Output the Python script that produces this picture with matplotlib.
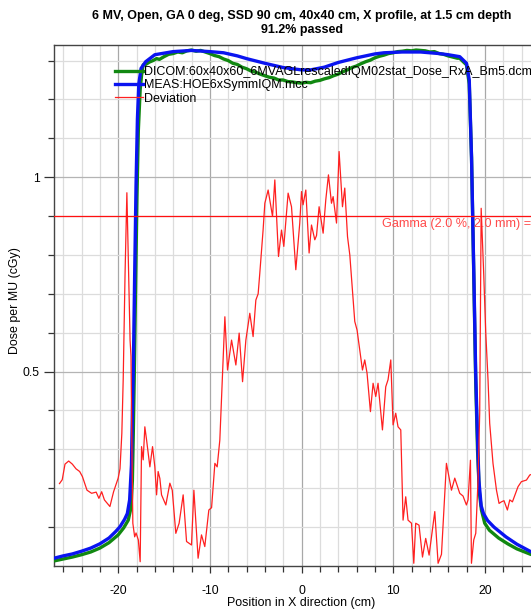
import matplotlib
matplotlib.use("Agg")
import matplotlib.pyplot as plt
import numpy as np

plt.rcParams['font.family'] = ['Liberation Sans', 'DejaVu Sans']
plt.rcParams['axes.unicode_minus'] = False

title = "6 MV, Open, GA 0 deg, SSD 90 cm, 40x40 cm, X profile, at 1.5 cm depth\n91.2% passed"
xlabel = "Position in X direction (cm)"
ylabel = "Dose per MU (cGy)"
label_dicom = "DICOM:60x40x60_6MVAGLrescaledIQM02stat_Dose_RxA_Bm5.dcm"
label_meas = "MEAS:HOE6xSymmIQM.mcc"
label_dev = "Deviation"
gamma_text = "Gamma (2.0 %, 2.0 mm) ="
gamma_level = 0.9

meas_x = [-27, -26, -25, -24, -23, -22, -21, -20.3, -19.8, -19.3, -19.0, -18.75, -18.55, -18.45,
          -18.35, -18.2, -18.05, -17.9, -17.75, -17.5, -17.0, -16.0, -14.0, -12.0, -10.0, -8.5,
          -7.0, -6.0, -4.0, -2.0, 0.0, 1.0, 2.5, 4.0, 6.0, 8.0, 9.0, 11.0, 13.0, 15.0, 16.0, 17.26,
          18.0, 18.3, 18.55, 18.8, 19.0, 19.15, 19.35, 19.6, 19.85, 20.3, 21.0, 22.3, 23.5, 25.0,
          26.0, 27.0]
meas_y = [0.020, 0.026, 0.031, 0.038, 0.046, 0.057, 0.072, 0.088, 0.101, 0.120, 0.135, 0.170,
          0.26, 0.39, 0.50, 0.75, 0.98, 1.15, 1.24, 1.28, 1.297, 1.315, 1.323, 1.326, 1.323, 1.32,
          1.312, 1.305, 1.293, 1.282, 1.276, 1.276, 1.283, 1.295, 1.307, 1.317, 1.32, 1.322, 1.322,
          1.318, 1.315, 1.31, 1.293, 1.25, 1.05, 0.75, 0.50, 0.37, 0.22, 0.155, 0.135, 0.117, 0.100,
          0.075, 0.056, 0.037, 0.030, 0.024]

dicom_x = [-27, -26, -25, -24, -23, -22, -21, -20.0, -19.4, -18.9, -18.6, -18.45, -18.35, -18.25,
           -18.1, -17.95, -17.8, -17.6, -17.45, -17.27, -17.0, -16.6, -16.2, -15.8, -15.5, -15.0,
           -14.5, -14.0, -13.5, -13.0, -12.5, -12.0, -11.5, -11.0, -10.5, -10.0, -9.5, -9.0, -8.5,
           -8.0, -7.5, -7.0, -6.5, -6.0, -5.5, -5.0, -4.5, -4.0, -3.5, -3.0, -2.5, -2.0, -1.5,
           -1.0, -0.5, 0.0, 0.5, 1.0, 1.5, 2.0, 2.5, 3.0, 3.5, 4.0, 4.5, 5.0, 5.5, 6.0, 6.5, 7.0,
           7.5, 8.0, 8.5, 9.0, 9.5, 10.0, 10.5, 11.0, 11.5, 12.0, 12.5, 13.0, 13.5, 14.0, 14.5,
           15.0, 15.5, 16.0, 16.5, 17.0, 17.26, 17.6, 18.0, 18.3, 18.55, 18.8, 19.0, 19.2, 19.4,
           19.63, 19.99, 20.5, 21.5, 22.5, 23.5, 25.0, 26.0, 27.0]
dicom_y = [0.013, 0.018, 0.023, 0.029, 0.036, 0.046, 0.060, 0.080, 0.098, 0.118, 0.150, 0.22,
           0.34, 0.48, 0.72, 0.95, 1.12, 1.225, 1.262, 1.289, 1.29, 1.296, 1.30, 1.305, 1.303,
           1.31, 1.316, 1.318, 1.322, 1.320, 1.325, 1.327, 1.324, 1.326, 1.322, 1.318, 1.313,
           1.310, 1.304, 1.300, 1.293, 1.290, 1.283, 1.279, 1.273, 1.270, 1.265, 1.261, 1.257,
           1.255, 1.250, 1.250, 1.246, 1.245, 1.243, 1.242, 1.244, 1.243, 1.247, 1.249, 1.253,
           1.256, 1.261, 1.265, 1.271, 1.276, 1.282, 1.286, 1.292, 1.297, 1.301, 1.307, 1.311,
           1.314, 1.318, 1.320, 1.323, 1.324, 1.326, 1.325, 1.327, 1.326, 1.325, 1.322, 1.323,
           1.318, 1.316, 1.312, 1.309, 1.306, 1.306, 1.298, 1.289, 1.24, 1.05, 0.74, 0.48,
           0.30, 0.19, 0.144, 0.110, 0.092, 0.072, 0.057, 0.044, 0.030, 0.024, 0.019]

dev_x = [-26.4, -26.1, -25.8, -25.4, -25.0, -24.6, -24.2, -23.9, -23.4, -22.9, -22.4, -22.1,
         -21.8, -21.5, -20.9, -20.5, -20.0, -19.8, -19.6, -19.45, -19.25, -19.05, -18.9, -18.7,
         -18.6, -18.5, -18.4, -18.2, -18.05, -17.8, -17.6, -17.45, -17.27, -17.09, -16.90,
         -16.54, -16.25, -16.0, -15.81, -15.64, -15.45, -15.27, -14.80, -14.36, -14.1, -13.71,
         -13.35, -12.91, -12.54, -12.0, -11.74, -11.28, -10.91, -10.55, -10.11, -9.81, -9.45,
         -9.20, -8.91, -8.36, -8.07, -7.63, -7.16, -6.80, -6.43, -6.07, -5.64, -5.28, -4.98,
         -4.73, -4.55, -4.19, -4.0, -3.64, -3.16, -2.91, -2.51, -2.18, -1.93, -1.46, -1.09,
         -0.62, -0.19, 0.0, 0.17, 0.47, 0.83, 1.09, 1.45, 1.64, 1.92, 2.36, 2.65, 2.94, 3.27,
         3.45, 3.82, 4.10, 4.47, 4.72, 5.02, 5.27, 5.81, 6.06, 6.65, 6.90, 7.15, 7.52, 7.81,
         8.10, 8.35, 8.83, 9.19, 9.44, 9.74, 9.99, 10.28, 10.53, 10.83, 11.08, 11.37, 11.62,
         12.0, 12.25, 12.46, 12.82, 13.20, 13.55, 13.92, 14.54, 14.90, 15.27, 15.81, 16.36,
         16.72, 17.26, 17.62, 17.99, 18.17, 18.43, 18.54, 18.79, 19.01, 19.26, 19.44, 19.6,
         19.88, 20.1, 20.35, 20.53, 20.89, 21.27, 21.55, 21.81, 22.09, 22.46, 22.72, 23.01,
         23.62, 23.99, 24.54, 24.9, 25.6, 26.4]
dev_y = [0.212, 0.222, 0.262, 0.270, 0.262, 0.250, 0.243, 0.230, 0.195, 0.187, 0.190, 0.174,
         0.191, 0.170, 0.153, 0.191, 0.226, 0.250, 0.341, 0.48, 0.75, 0.96, 0.80, 0.58, 0.54,
         0.30, 0.11, 0.075, 0.085, 0.067, 0.011, 0.307, 0.273, 0.358, 0.324, 0.255, 0.307,
         0.255, 0.183, 0.243, 0.225, 0.183, 0.157, 0.213, 0.195, 0.084, 0.11, 0.183, 0.063,
         0.054, 0.195, 0.020, 0.080, 0.050, 0.144, 0.150, 0.264, 0.255, 0.324, 0.641, 0.504,
         0.581, 0.517, 0.599, 0.474, 0.581, 0.65, 0.59, 0.684, 0.70, 0.753, 0.864, 0.933,
         0.967, 0.899, 0.993, 0.796, 0.864, 0.822, 0.959, 0.924, 0.762, 0.882, 0.963, 0.929,
         0.967, 0.805, 0.877, 0.839, 0.85, 0.924, 0.856, 0.942, 1.006, 0.933, 0.950, 0.882,
         1.066, 0.924, 0.972, 0.847, 0.80, 0.629, 0.607, 0.504, 0.53, 0.496, 0.397, 0.47,
         0.436, 0.47, 0.35, 0.461, 0.479, 0.53, 0.363, 0.393, 0.358, 0.35, 0.118, 0.178, 0.118,
         0.11, 0.007, 0.11, 0.105, 0.023, 0.071, 0.028, 0.14, 0.007, 0.03, 0.264, 0.195, 0.226,
         0.187, 0.18, 0.157, 0.170, 0.272, 0.007, 0.067, 0.084, 0.221, 0.393, 0.92, 0.75, 0.6,
         0.478, 0.367, 0.264, 0.195, 0.161, 0.165, 0.168, 0.144, 0.17, 0.165, 0.204, 0.217,
         0.221, 0.234, 0.24, 0.245]

xlim = (-27, 27)
ylim = (0.0, 1.34)
xticks_labeled = [-20, -10, 0, 10, 20]
yticks_labeled = [0.5, 1.0]

W, H = 531, 613
fig = plt.figure(figsize=(W / 100, H / 100), dpi=100)
ax = fig.add_axes([54 / W, 1 - 566 / H, (549 - 54) / W, (566 - 45) / H])

# grid
for gx in np.arange(-26, 27, 2):
    ax.axvline(gx, color='#a8a8a8' if gx % 10 == 0 else '#dcdcdc', lw=0.9, zorder=0)
for gy in np.arange(0.1, 1.31, 0.1):
    major = abs(gy - 0.5) < 1e-6 or abs(gy - 1.0) < 1e-6
    ax.axhline(gy, color='#b4b4b4' if major else '#dcdcdc', lw=0.9, zorder=0)

ax.plot(dicom_x, dicom_y, color='#118811', lw=2.4, label=label_dicom, zorder=3)
ax.plot(meas_x, meas_y, color='#0a14f0', lw=2.4, label=label_meas, zorder=4)
ax.plot(dev_x, dev_y, color='#ff2020', lw=0.9, label=label_dev, zorder=5)
ax.axhline(gamma_level, color='#ff1010', lw=0.9, zorder=5)
ax.text(8.75, gamma_level - 0.006, gamma_text, color='#ff4a4a', fontsize=9.1,
        va='top', ha='left', clip_on=False, zorder=6)

ax.set_xlim(*xlim)
ax.set_ylim(*ylim)
ax.set_xticks(xticks_labeled)
ax.set_xticks(np.arange(-26, 27, 2), minor=True)
ax.set_yticks(yticks_labeled)
ax.set_yticklabels(['0.5', '1'])
ax.set_yticks(np.arange(0.1, 1.31, 0.1), minor=True)
ax.tick_params(axis='y', which='major', length=7.2, width=0.9, color='#333333', labelsize=8.8, pad=3)
ax.tick_params(axis='x', which='major', length=5, width=0.9, color='#333333', labelsize=8.8, pad=9)
ax.tick_params(which='minor', length=4, width=0.9, color='#333333')
for s in ax.spines.values():
    s.set_color('#444444')
    s.set_linewidth(1.0)

ax.set_xlabel(xlabel, fontsize=8.9)
ax.xaxis.set_label_coords(0.5, -(597 - 566) / (566 - 45))
ax.set_ylabel(ylabel, fontsize=8.9)
ax.yaxis.set_label_coords((21 - 54) / (549 - 54), (566 - 301) / (566 - 45))
fig.text(301.7 / W, 1 - 15.5 / H, title.split('\n')[0], ha='center', va='center', fontsize=9.0,
         fontweight='bold')
fig.text(301.7 / W, 1 - 30 / H, title.split('\n')[1], ha='center', va='center', fontsize=9.0,
         fontweight='bold')

leg = ax.legend(loc='upper left', bbox_to_anchor=((115 - 54) / (549 - 54), 1 - (66 - 45) / (566 - 45)),
                frameon=False, fontsize=9, handlelength=2.2, handletextpad=0.1,
                labelspacing=0.1, borderaxespad=0, borderpad=0)
leg.set_zorder(10)

fig.savefig('out.png', dpi=100)
